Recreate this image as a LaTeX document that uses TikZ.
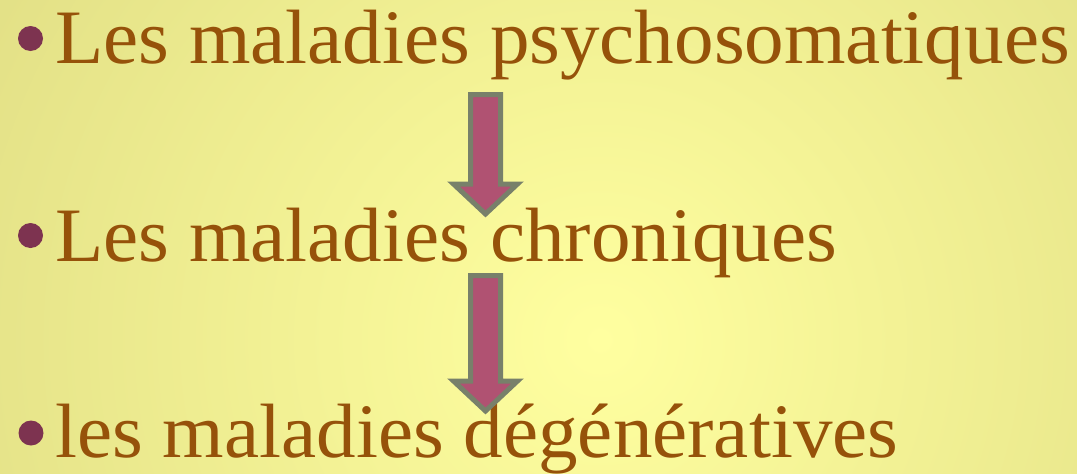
\documentclass[tikz,border=0pt]{standalone}
\usepackage{fontspec}
\setmainfont[FakeStretch=1.027]{Liberation Serif}
\usetikzlibrary{calc}
\definecolor{textbrown}{RGB}{150,82,10}
\definecolor{bulletplum}{RGB}{125,51,80}
\definecolor{arrowpink}{RGB}{176,82,114}
\definecolor{arrowgrey}{RGB}{120,128,106}
\definecolor{bgcentre}{RGB}{255,255,160}
\definecolor{bgedge}{RGB}{204,200,114}
\begin{document}
\begin{tikzpicture}[
        x=1pt, y=-1pt,
        line/.style={anchor=base west, inner sep=0pt, text=textbrown, font=\fontsize{77}{84}\selectfont},
        dot/.style={circle, fill=bulletplum, inner sep=0pt, minimum size=25pt},
        blockarrow/.style={fill=arrowpink, draw=arrowgrey, line width=5pt, miter limit=4}
    ]
        % background
        \useasboundingbox (0,0) rectangle (1077,474);
        \begin{scope}
            \clip (0,0) rectangle (1077,474);
            \shade[inner color=bgcentre, outer color=bgedge] (600,340) circle (1250);
        \end{scope}

        % bullet lines
        \node[line] (psycho) at (55,63) {Les maladies psychosomatiques};
        \node[line] (chron) at (55,261) {Les maladies chroniques};
        \node[line] (degen) at (55,457) {les maladies dégénératives};
        \node[dot] (b1) at (30.5,38.5) {};
        \node[dot] (b2) at (30.5,235.5) {};
        \node[dot] (b3) at (31,433) {};

        % arrows
        \coordinate (a1top) at (485.5,94.5);
        \coordinate (a1tip) at (485.5,214);
        \coordinate (a2top) at (485.5,275.5);
        \coordinate (a2tip) at (485.5,411);
        \foreach \t/\h in {a1top/a1tip, a2top/a2tip}
            \draw[blockarrow] ($(\t)+(-15,0)$) -- ($(\h)+(-15,-30)$) -- ($(\h)+(-32,-30)$) -- (\h)
                -- ($(\h)+(32,-30)$) -- ($(\h)+(15,-30)$) -- ($(\t)+(15,0)$) -- cycle;
    \end{tikzpicture}
\end{document}
